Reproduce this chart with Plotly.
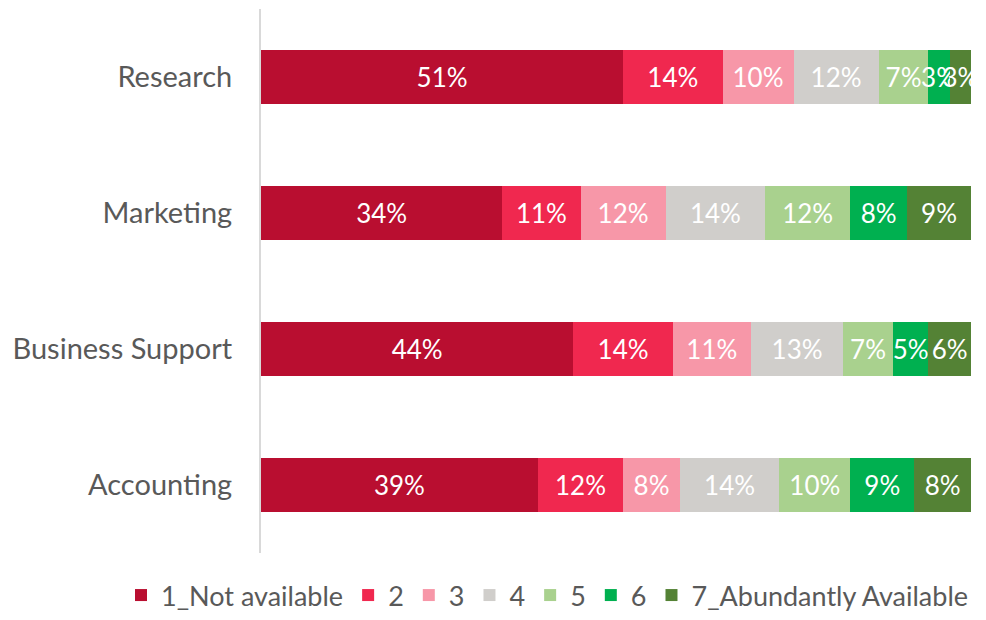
import plotly.graph_objects as go

categories = ["Research", "Marketing", "Business Support", "Accounting"]
series_names = ["1_Not available", "2", "3", "4", "5", "6", "7_Abundantly Available"]
values = {
    "1_Not available": [51, 34, 44, 39],
    "2": [14, 11, 14, 12],
    "3": [10, 12, 11, 8],
    "4": [12, 14, 13, 14],
    "5": [7, 12, 7, 10],
    "6": [3, 8, 5, 9],
    "7_Abundantly Available": [3, 9, 6, 8],
}
colors = ["#B90E30", "#F0284F", "#F797A8", "#D0CECB", "#A9D18E", "#00B050", "#548235"]

FONT = "Lato, 'Open Sans', sans-serif"

fig = go.Figure()
for name, col in zip(series_names, colors):
    vals = values[name]
    fig.add_trace(go.Bar(
        y=categories,
        x=vals,
        name=name,
        orientation="h",
        marker=dict(color=col, line=dict(width=0)),
        text=[f"{v}%" for v in vals],
        textposition="inside",
        insidetextanchor="middle",
        textangle=0,
        constraintext="none",
        textfont=dict(color="white", size=26, family=FONT),
        hoverinfo="skip",
    ))

# plot area spans to the right edge; the x range leaves the last 15px empty
fig.update_layout(
    barmode="stack",
    bargap=0.61,
    width=986,
    height=620,
    margin=dict(l=261, r=0, t=9, b=67),
    paper_bgcolor="white",
    plot_bgcolor="white",
    font=dict(family=FONT, color="#595959", size=28),
    xaxis=dict(range=[0, 100 * 725 / 710], visible=False, showgrid=False, zeroline=False),
    yaxis=dict(
        categoryorder="array",
        categoryarray=categories[::-1],
        showline=True,
        linecolor="#D9D9D9",
        linewidth=2,
        ticks="",
        ticklabelstandoff=21,
        tickfont=dict(size=29, color="#595959", family=FONT),
        showgrid=False,
        automargin=False,
    ),
    legend=dict(
        orientation="h",
        x=-0.1931,
        xanchor="left",
        y=-0.1232,
        yanchor="bottom",
        font=dict(size=27, color="#595959", family=FONT),
        itemwidth=30,
        tracegroupgap=0,
        traceorder="normal",
    ),
    showlegend=True,
)

fig.write_html("out.html")
